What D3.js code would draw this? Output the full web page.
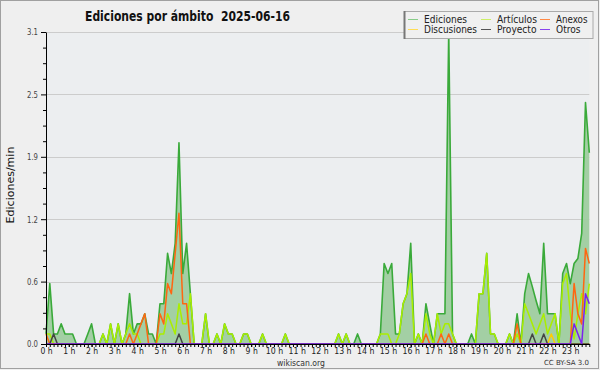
<!DOCTYPE html>
<html><head><meta charset="utf-8">
<script src="https://cdn.jsdelivr.net/npm/d3@7"></script>
<style>
html,body{margin:0;padding:0;background:#efefef;}
svg{display:block;}
text{font-family:"DejaVu Sans",sans-serif;}
</style></head>
<body><svg id="c" width="600" height="370"></svg>
<script>
// ---- DATA (10-minute bins, edits per minute) ----
const hourLabels = d3.range(24).map(h => h + " h");
const yTickValues = [0, 0.62, 1.24, 1.86, 2.48, 3.1];
const yTickLabels = ["0.0", "0.6", "1.2", "1.9", "2.5", "3.1"];
const seriesNames = ["Ediciones", "Artículos", "Anexos", "Discusiones", "Proyecto", "Otros"];
const seriesColors = ["#3aaa3a", "#aaee00", "#ff6611", "#ffcc00", "#444444", "#7a22ee"];
const legendColors = ["#88cc88", "#ccee66", "#ff8844", "#ffdd55", "#555555", "#8844ee"];

const ediciones = [
  0.1,0.6,0.1,0.1,0.2,0.1,   0.1,0.1,0,0,0,0.1,   0.2,0,0,0.1,0,0.2,   0,0.2,0,0.1,0.5,0.1,
  0.2,0.2,0.3,0.1,0.1,0,     0.4,0.4,0.9,0.7,1.0,2.0, 0.7,1.0,0.5,0,0,0, 0.3,0,0,0.1,0,0.2,
  0.1,0.1,0,0,0.1,0.1,       0,0,0,0.1,0,0,       0,0,0,0.1,0,0,       0,0,0,0,0,0,
  0,0,0,0,0,0.1,             0,0.1,0,0,0.1,0,     0,0,0,0,0.1,0.8,     0.7,0.8,0.1,0.1,0.4,0.5,
  1.0,0,0.1,0,0.4,0.2,       0,0.3,0.3,0.3,3.1,0.1, 0,0,0,0,0.1,0,     0.5,0.5,0.9,0.1,0.1,0,
  0,0,0.1,0,0.3,0,           0.5,0.7,0.57,0.43,0.3,1.0, 0.3,0.3,0.3,0,0.7,0.8, 0.6,0.8,0.85,1.1,2.4,1.9
];
const articulos = [
  0.1,0.1,0,0,0,0,           0,0,0,0,0,0,         0,0,0,0.1,0,0.2,     0,0.2,0,0.1,0.2,0.1,
  0.1,0,0,0,0,0,             0.1,0.1,0.3,0.2,0.1,0.4, 0.2,0.2,0.5,0,0,0, 0.3,0,0,0.1,0,0.2,
  0.1,0.1,0,0,0.1,0.1,       0,0,0,0.1,0,0,       0,0,0,0.1,0,0,       0,0,0,0,0,0,
  0,0,0,0,0,0.1,             0,0.1,0,0,0,0,       0,0,0,0,0.1,0.1,     0.1,0,0,0.1,0.4,0.5,
  0.7,0,0.1,0,0.3,0.1,       0,0.3,0.1,0.2,0.2,0.1, 0,0,0,0,0,0,       0.5,0.5,0.9,0.1,0.1,0,
  0,0,0.1,0,0.1,0,           0.4,0.3,0.2,0.1,0.2,0.3, 0.1,0.2,0.3,0,0.6,0.7, 0.3,0.05,0.3,0.5,0.3,0.6
];
const anexos = [
  0.1,0,0,0,0,0,             0,0,0,0,0,0,         0,0,0,0,0,0,         0,0,0,0,0.1,0,
  0.1,0.2,0.3,0,0,0,         0.3,0.2,0.6,0.5,0.9,1.3, 0.4,0.4,0,0,0,0,  0,0,0,0,0,0,
  0,0,0,0,0,0,               0,0,0,0,0,0,         0,0,0,0,0,0,         0,0,0,0,0,0,
  0,0,0,0,0,0,               0,0,0,0,0,0,         0,0,0,0,0,0,         0,0,0,0,0,0,
  0,0,0,0,0.1,0,             0,0,0.1,0,0.1,0,     0,0,0,0,0,0,         0,0,0,0,0,0,
  0,0,0,0,0.2,0,             0,0,0,0,0,0,         0,0,0,0,0,0,         0,0.6,0.3,0.2,0.95,0.8
];
const discusiones = new Array(144).fill(0);
discusiones[133] = 0.1;
const proyecto = new Array(144).fill(0);
proyecto[2] = 0.1; proyecto[35] = 0.1; proyecto[128] = 0.1; proyecto[131] = 0.1;
const otros = new Array(144).fill(0);
otros[139] = 0.2; otros[140] = 0.1; otros[142] = 0.5; otros[143] = 0.4;

const allSeries = [ediciones, articulos, anexos, discusiones, proyecto, otros];

// ---- CHART ----
const svg = d3.select("#c");
const W = 600, H = 370;
const pL = 46, pR = 589.3, pT = 32, pB = 344;

svg.append("rect").attr("x",0.5).attr("y",0.5).attr("width",W-2).attr("height",H-2)
  .attr("fill","#efefef").attr("stroke","#a0a0a0");
svg.append("rect").attr("x",pL).attr("y",pT).attr("width",pR-pL).attr("height",pB-pT)
  .attr("fill","#eceef0");

const x = d3.scaleLinear().domain([0, 143]).range([pL, pR]);
const y = d3.scaleLinear().domain([0, 3.1]).range([pB, pT]);

// grid
svg.append("g").selectAll("line").data(yTickValues.slice(1)).join("line")
  .attr("x1", pL).attr("x2", pR)
  .attr("y1", d => Math.round(y(d)) + 0.5).attr("y2", d => Math.round(y(d)) + 0.5)
  .attr("stroke", "#cccccc").attr("stroke-width", 1);

// Ediciones area
const area = d3.area().x((d,i)=>x(i)).y0(y(0)).y1(d=>y(d));
svg.append("path").datum(ediciones).attr("d", area).attr("fill", "#9fcc9f").attr("fill-opacity", 0.95);

const line = d3.line().x((d,i)=>x(i)).y(d=>y(d));
const drawOrder = [0, 1, 3, 2, 4, 5];
drawOrder.forEach(k => {
  svg.append("path").datum(allSeries[k]).attr("d", line)
    .attr("fill", "none").attr("stroke", seriesColors[k])
    .attr("stroke-width", k === 0 ? 1.6 : 1.5).attr("stroke-linejoin", "round");
});

// Y axis
const yAxis = svg.append("g").attr("transform", `translate(${pL},0)`)
  .call(d3.axisLeft(y).tickValues(yTickValues).tickFormat((d,i)=>yTickLabels[i]).tickSize(5).tickSizeOuter(0));
yAxis.selectAll("text").attr("font-size", 9).attr("fill", "#444")
  .attr("textLength", 11).attr("lengthAdjust", "spacingAndGlyphs");
const minor = d3.range(0, 21).map(i => i * 0.155).filter((d,i)=> i % 4 !== 0);
svg.append("g").attr("transform", `translate(${pL},0)`)
  .call(d3.axisLeft(y).tickValues(minor).tickFormat("").tickSize(3).tickSizeOuter(0))
  .select(".domain").remove();

// X axis
svg.append("g").attr("transform", `translate(0,${pB})`)
  .call(d3.axisBottom(x).tickValues(d3.range(0,144)).tickFormat("").tickSize(3).tickSizeOuter(0));
const xl = svg.append("g").attr("transform", `translate(0,${pB})`)
  .call(d3.axisBottom(x).tickValues(d3.range(0,144,6)).tickFormat((d)=>hourLabels[d/6]).tickSize(3).tickSizeOuter(0));
xl.select(".domain").remove();
xl.selectAll("text").attr("font-size", 9).attr("fill", "#222").attr("y", 10).attr("dy", 0)
  .attr("textLength", function(){ return (this.textContent.length - 2) * 5.2 + 7; })
  .attr("lengthAdjust", "spacingAndGlyphs");
svg.selectAll(".domain").attr("stroke","#000");

// Titles
svg.append("text").attr("x", 85).attr("y", 21).attr("font-size", 14).attr("font-weight", "bold")
  .style("white-space", "pre").attr("xml:space", "preserve")
  .attr("textLength", 205).attr("lengthAdjust","spacingAndGlyphs").attr("fill","#111")
  .text("Ediciones por ámbito  2025-06-16");
svg.append("text").attr("transform", "translate(14,185) rotate(-90)").attr("text-anchor","middle")
  .attr("font-family","DejaVu Sans Mono").attr("font-size", 11).attr("fill","#111").text("Ediciones/min");
svg.append("text").attr("x", 301).attr("y", 365.5).attr("text-anchor","middle").attr("font-size", 9)
  .attr("textLength", 48).attr("lengthAdjust","spacingAndGlyphs")
  .attr("fill","#333").text("wikiscan.org");
svg.append("text").attr("x", 589).attr("y", 365).attr("text-anchor","end").attr("font-size", 7)
  .attr("fill","#333").text("CC BY-SA 3.0");

// Legend
const lg = svg.append("g");
lg.append("rect").attr("x", 404.5).attr("y", 11.5).attr("width", 188.5).attr("height", 27)
  .attr("fill", "#f0f0f0").attr("stroke", "#aaaaaa");
lg.append("line").attr("x1",404.5).attr("x2",404.5).attr("y1",11).attr("y2",39).attr("stroke","#777").attr("stroke-width",2);
const legPos = [[408,19],[481,19],[540,19],[408,29],[481,29],[540,29]];
const legWidths = [43, 40, 31.5, 53, 39.5, 24.5];
seriesNames.forEach((name, k) => {
  const [lx, ly] = legPos[k];
  lg.append("line").attr("x1", lx).attr("x2", lx+10).attr("y1", ly+0.5).attr("y2", ly+0.5)
    .attr("stroke", legendColors[k]).attr("stroke-width", 1);
  lg.append("text").attr("x", lx+16).attr("y", ly+3.5).attr("font-size", 10).attr("fill","#222")
    .attr("textLength", legWidths[k]).attr("lengthAdjust","spacingAndGlyphs")
    .text(name);
});
</script></body></html>
